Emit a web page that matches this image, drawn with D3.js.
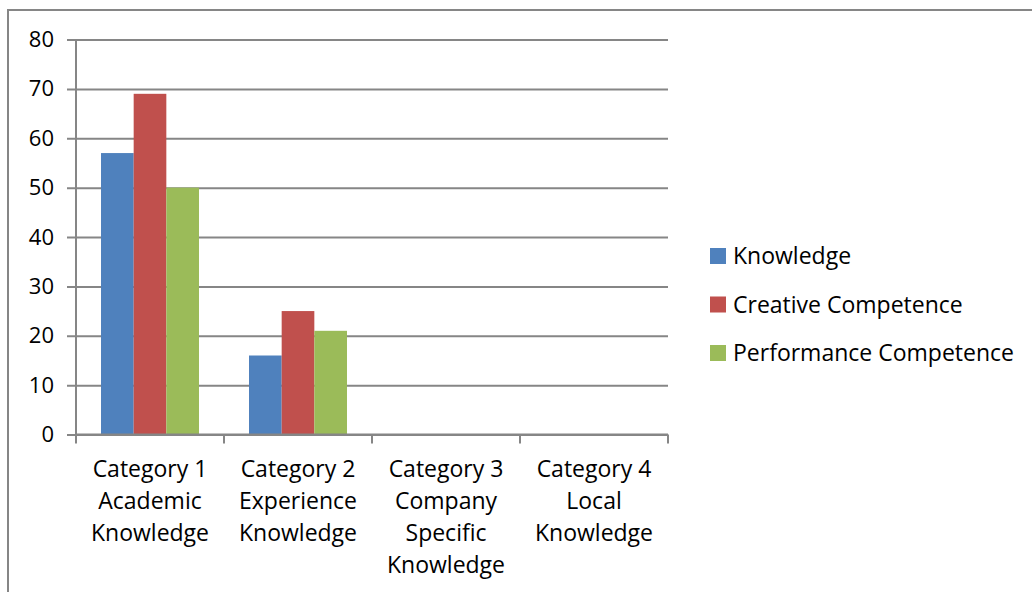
<!DOCTYPE html>
<html>
<head>
<meta charset="utf-8">
<script src="https://cdn.jsdelivr.net/npm/d3@7"></script>
<style>
    body { margin: 0; background: #fff; }
    text { font-family: "Open Sans", sans-serif; fill: #000; }
</style>
</head>
<body>
<div class="chart"></div>
<script>
var svgWidth = 1032;
var svgHeight = 592;

// data
var categories = [
    "Category 1 Academic Knowledge",
    "Category 2 Experience Knowledge",
    "Category 3 Company Specific Knowledge",
    "Category 4 Local Knowledge"
];
var categoryLines = [
    ["Category 1", "Academic", "Knowledge"],
    ["Category 2", "Experience", "Knowledge"],
    ["Category 3", "Company", "Specific", "Knowledge"],
    ["Category 4", "Local", "Knowledge"]
];
var seriesNames = ["Knowledge", "Creative Competence", "Performance Competence"];
var knowledge = [57, 16, null, null];
var creative = [69, 25, null, null];
var performance = [50, 21, null, null];
var yTicks = [0, 10, 20, 30, 40, 50, 60, 70, 80];

var colors = ["#4F81BD", "#C0504D", "#9BBB59"];
var gridColor = "#868686";

var margin = { top: 39.5, left: 76 };
var plotWidth = 592;
var plotHeight = 395;

var svg = d3.select(".chart")
    .append("svg")
    .attr("width", svgWidth)
    .attr("height", svgHeight);

// outer chart border (runs off the right and bottom edges)
svg.append("rect")
    .attr("x", 8)
    .attr("y", 10)
    .attr("width", 1100)
    .attr("height", 700)
    .attr("fill", "none")
    .attr("stroke", gridColor)
    .attr("stroke-width", 2);

var chartGroup = svg.append("g")
    .attr("transform", `translate(${margin.left}, ${margin.top})`);

var x0 = d3.scaleBand()
    .domain(categories)
    .range([0, plotWidth])
    .paddingInner(0.338)
    .paddingOuter(0.169);

var x1 = d3.scaleBand()
    .domain(seriesNames)
    .range([0, x0.bandwidth()]);

var y = d3.scaleLinear()
    .domain([0, 80])
    .range([plotHeight, 0]);

// gridlines with tick stubs on the left
var leftAxis = d3.axisLeft(y)
    .tickValues(yTicks)
    .tickSize(-plotWidth)
    .tickSizeOuter(0)
    .tickPadding(12);

var yAxis = chartGroup.append("g")
    .call(leftAxis);

yAxis.select(".domain").remove();
yAxis.selectAll(".tick line")
    .attr("x1", -9)
    .attr("stroke", gridColor)
    .attr("stroke-width", 2);
yAxis.selectAll(".tick text")
    .attr("x", -22)
    .style("font-family", "'Open Sans', sans-serif")
    .style("font-size", "22px")
    .attr("fill", "#000");

// vertical axis line
chartGroup.append("line")
    .attr("x1", 0).attr("x2", 0)
    .attr("y1", 0).attr("y2", plotHeight)
    .attr("stroke", gridColor)
    .attr("stroke-width", 2);

// bars
var rows = categories.map(function (c, i) {
    return { cat: c, values: [knowledge[i], creative[i], performance[i]] };
});

var groups = chartGroup.selectAll(".cat")
    .data(rows)
    .enter()
    .append("g")
    .attr("transform", d => `translate(${x0(d.cat) }, 0)`);

groups.selectAll("rect")
    .data(d => d.values.map((v, j) => ({ name: seriesNames[j], value: v, j: j })).filter(e => e.value != null))
    .enter()
    .append("rect")
    .attr("x", d => x1(d.name))
    .attr("y", d => y(d.value))
    .attr("width", x1.bandwidth())
    .attr("height", d => plotHeight - y(d.value))
    .attr("fill", d => colors[d.j]);

// bottom axis with ticks between categories
var step = plotWidth / categories.length;
var bottom = chartGroup.append("g")
    .attr("transform", `translate(0, ${plotHeight})`);

bottom.append("line")
    .attr("x1", 0).attr("x2", plotWidth)
    .attr("y1", 0).attr("y2", 0)
    .attr("stroke", gridColor)
    .attr("stroke-width", 2);

bottom.selectAll(".sep")
    .data(d3.range(categories.length + 1))
    .enter()
    .append("line")
    .attr("x1", d => d * step).attr("x2", d => d * step)
    .attr("y1", 0).attr("y2", 9)
    .attr("stroke", gridColor)
    .attr("stroke-width", 2);

bottom.selectAll(".catlabel")
    .data(categories)
    .enter()
    .append("text")
    .attr("text-anchor", "middle")
    .attr("font-size", "23px")
    .attr("transform", d => `translate(${x0(d) + x0.bandwidth() / 2}, 0)`)
    .each(function (d, i) {
        var t = d3.select(this);
        categoryLines[i].forEach(function (line, k) {
            t.append("tspan")
                .attr("x", 0)
                .attr("y", 42 + k * 32.3)
                .text(line);
        });
    });

// legend
var legend = svg.append("g")
    .attr("transform", "translate(710, 256)");

var items = legend.selectAll(".item")
    .data(seriesNames)
    .enter()
    .append("g")
    .attr("transform", (d, i) => `translate(0, ${i * 48.5})`);

items.append("rect")
    .attr("x", 0)
    .attr("y", -8)
    .attr("width", 16)
    .attr("height", 16)
    .attr("fill", (d, i) => colors[i]);

items.append("text")
    .attr("x", 23)
    .attr("y", 8)
    .attr("font-size", "23px")
    .text(d => d);
</script>
</body>
</html>
